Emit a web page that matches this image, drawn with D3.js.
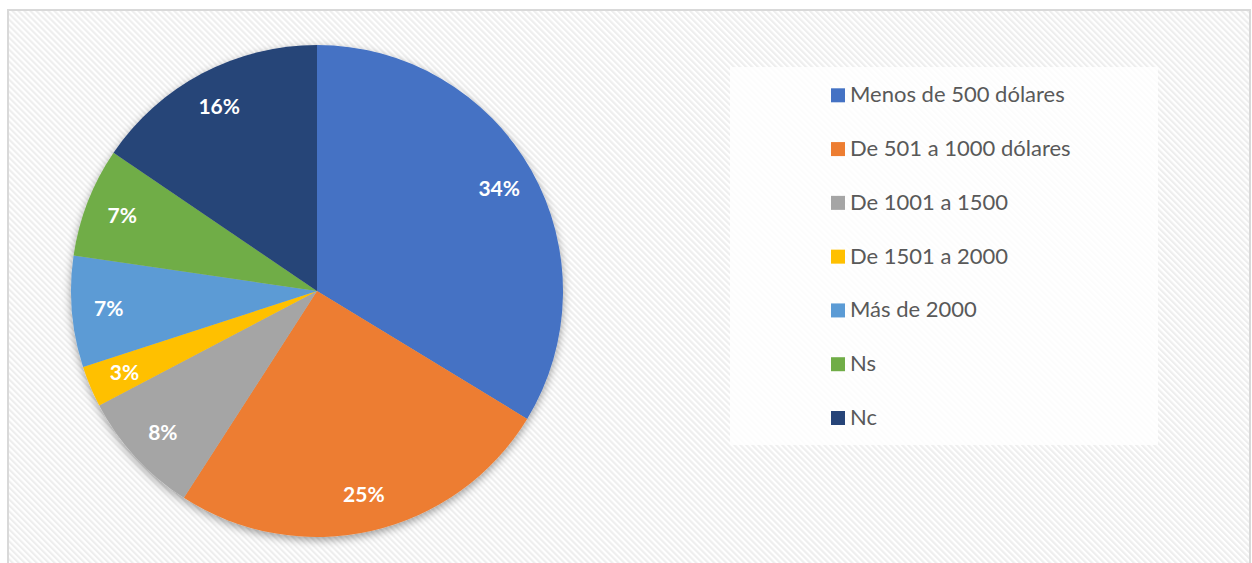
<!DOCTYPE html>
<html>
<head>
<meta charset="utf-8">
<script src="https://cdn.jsdelivr.net/npm/d3@7"></script>
<style>
  html, body { margin: 0; padding: 0; background: #ffffff; }
  svg { display: block; }
</style>
</head>
<body>
<svg id="chart" width="1252" height="563"></svg>
<script>
// ---- Data ----
const categories = [
  "Menos de 500 dólares",
  "De 501 a 1000 dólares",
  "De 1001 a 1500",
  "De 1501 a 2000",
  "Más de 2000",
  "Ns",
  "Nc"
];
const values = [33.7, 25.4, 8.2, 2.7, 7.3, 7.2, 15.5];
const colors = ["#4472C4", "#ED7D31", "#A5A5A5", "#FFC000", "#5B9BD5", "#70AD47", "#264478"];

// ---- Layout ----
const W = 1252, H = 563;
const cx = 317, cy = 291, R = 246;
const labelR = 209;

const svg = d3.select("#chart");
const defs = svg.append("defs");

// diagonal hatch pattern
const pat = defs.append("pattern")
  .attr("id", "hatch")
  .attr("patternUnits", "userSpaceOnUse")
  .attr("width", 4.24).attr("height", 4.24)
  .attr("patternTransform", "rotate(-45)");
pat.append("rect").attr("width", 4.24).attr("height", 4.24).attr("fill", "#ffffff");
pat.append("rect").attr("width", 2.1).attr("height", 4.24).attr("fill", "#eeeeee");

// drop shadow
const f = defs.append("filter").attr("id", "shadow")
  .attr("x", "-20%").attr("y", "-20%").attr("width", "140%").attr("height", "140%");
f.append("feDropShadow").attr("dx", 0).attr("dy", 3).attr("stdDeviation", 4.5)
  .attr("flood-color", "#000").attr("flood-opacity", 0.38);

// chart area
svg.append("rect")
  .attr("x", 8).attr("y", 10).attr("width", 1242).attr("height", 620)
  .attr("fill", "url(#hatch)")
  .attr("stroke", "#d9d9d9").attr("stroke-width", 2);

// pie
const total = d3.sum(values);
const pie = d3.pie().sort(null).value(d => d.v);
const arcs = pie(values.map((v, i) => ({ v, i })));
const arc = d3.arc().innerRadius(0).outerRadius(R);
const labelArc = d3.arc().innerRadius(labelR).outerRadius(labelR);

const g = svg.append("g").attr("transform", `translate(${cx},${cy})`);
const slices = g.append("g").attr("filter", "url(#shadow)");
slices.selectAll("path").data(arcs).join("path")
  .attr("d", arc)
  .attr("fill", d => colors[d.data.i]);

g.append("g").selectAll("text").data(arcs).join("text")
  .attr("transform", d => `translate(${labelArc.centroid(d)})`)
  .attr("text-anchor", "middle")
  .attr("dy", "0.36em")
  .attr("fill", "#ffffff")
  .attr("font-family", "Lato, 'Open Sans', sans-serif")
  .attr("font-weight", 700)
  .attr("font-size", 21)
  .text(d => Math.round(d.data.v / total * 100) + "%");

// legend
svg.append("rect")
  .attr("x", 730).attr("y", 67).attr("width", 428).attr("height", 378)
  .attr("fill", "#ffffff").attr("fill-opacity", 0.82);

const legendY = d3.scalePoint().domain(categories).range([95.3, 418]);
const lg = svg.append("g");
const items = lg.selectAll("g").data(categories).join("g")
  .attr("transform", d => `translate(831,${legendY(d)})`);
items.append("rect")
  .attr("x", 0).attr("y", -7).attr("width", 14).attr("height", 14)
  .attr("fill", (d, i) => colors[i]);
items.append("text")
  .attr("x", 19).attr("y", 7)
  .attr("fill", "#595959")
  .attr("font-family", "Lato, 'Open Sans', sans-serif")
  .attr("font-size", 22)
  .text(d => d);
</script>
</body>
</html>
